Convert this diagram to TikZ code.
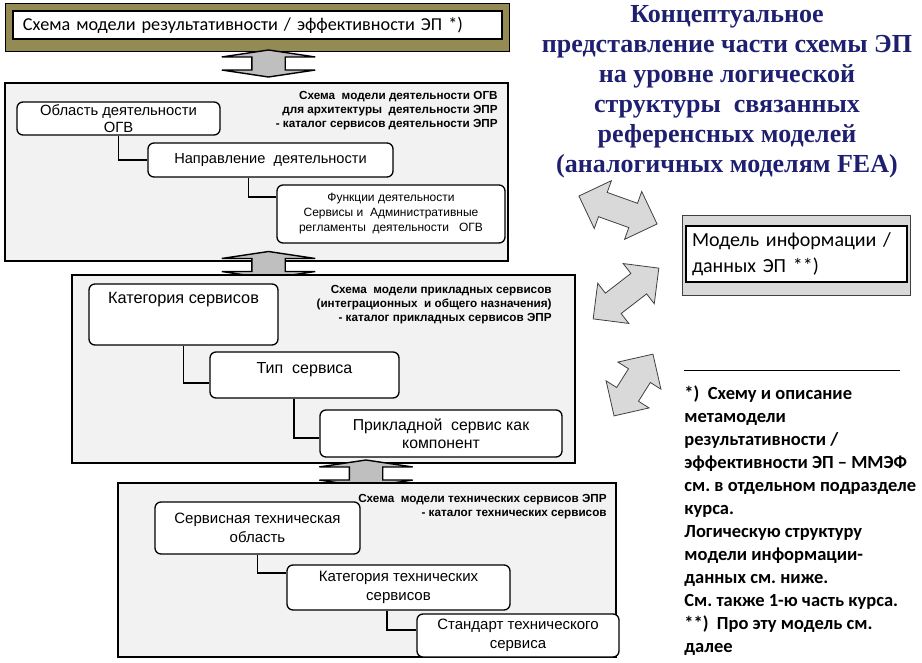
\documentclass[tikz,border=0pt]{standalone}
\usepackage{fontspec}
\usepackage{tikz}
\setmainfont{Liberation Sans}
\newfontfamily\carlito{Carlito}
\newfontfamily\timesru{Liberation Serif}
\definecolor{gray100}{HTML}{F2F2F2}
\definecolor{gray300}{HTML}{D9D9D9}
\definecolor{gray400}{HTML}{BFBFBF}
\definecolor{gray700}{HTML}{404040}
\definecolor{olive600}{HTML}{948A54}
\definecolor{navy900}{HTML}{1F1F70}
\usetikzlibrary{shapes.arrows}
\tikzstyle{ramka}=[draw=black, fill=gray100, line width=1.3pt, inner sep=0pt]
\tikzstyle{blok}=[draw=black, fill=white, rounded corners=6pt, line width=1.3pt, align=center, inner sep=0pt]
\tikzstyle{podpis}=[anchor=north east, align=right, inner sep=0pt, font=\bfseries\fontsize{11.7}{14}\selectfont]
\tikzstyle{svyaz}=[draw=black, line width=1.3pt]
\tikzstyle{strelka}=[double arrow, draw=gray700, fill=gray300, line width=0.8pt, minimum width=0pt, inner xsep=0pt, inner ysep=12.5pt, double arrow head extend=12.5pt]
\tikzstyle{perehod}=[double arrow, draw=black, fill=gray400, line width=1.4pt, rotate=90, minimum width=0pt, minimum height=27pt, inner xsep=0pt, inner ysep=16pt, double arrow head extend=30pt, double arrow tip angle=163]
\frenchspacing

\begin{document}
\begin{tikzpicture}[x=1pt, y=-1pt, thick]
			\useasboundingbox (0,0) rectangle (922,663);
			% verkhnyaya shema
			\node[draw=black, fill=olive600, line width=0.6pt, minimum width=504pt, minimum height=48pt, inner sep=0pt] (shema) at (257,27) {};
			\node[draw=black, fill=white, line width=1.3pt, minimum width=489pt, minimum height=28pt, text width=469pt, inner xsep=10pt, inner ysep=0pt, align=left, font=\carlito\fontsize{18.2}{21}\selectfont] (rez) at (257.5,25) {Схема модели результативности / эффективности ЭП *)};
			\node[perehod] (s1) at (268.5,63.5) {};
			% deyatelnost OGV
			\node[ramka, minimum width=503pt, minimum height=178pt] (p1) at (256.5,172) {};
			\node[podpis] (l1) at (498,91) {Схема\ \ модели деятельности ОГВ\\для архитектуры\ \ деятельности ЭПР\\- каталог сервисов деятельности ЭПР};
			\node[blok, minimum width=203pt, minimum height=33pt, font=\fontsize{14.8}{17.5}\selectfont] (a1) at (118.5,118.5) {Область деятельности\\ОГВ};
			\node[blok, minimum width=245pt, minimum height=34pt, font=\fontsize{14.6}{17}\selectfont] (a2) at (270.5,160) {Направление\ \ деятельности};
			\node[blok, minimum width=228pt, minimum height=58pt, font=\fontsize{12}{15}\selectfont] (a3) at (391,214) {Функции деятельности\\Сервисы и\ \ Административные\\регламенты\ \ деятельности\ \ \ ОГВ};
			\path[svyaz] (a1.south) |- (a2.west);
			\path[svyaz] ([xshift=-22pt]a2.south) |- ([yshift=17pt]a3.west);
			\node[perehod] (s2) at (268.5,265) {};
			% prikladnye servisy
			\node[ramka, minimum width=503pt, minimum height=188pt] (p2) at (323.5,369) {};
			\node[podpis] (l2) at (552,284.5) {Схема\ \ модели прикладных сервисов\\(интеграционных\ \ и общего\ назначения)\\- каталог прикладных сервисов ЭПР};
			\node[blok, minimum width=189pt, text height=19.5pt, text depth=41.5pt, font=\fontsize{16.3}{18}\selectfont] (b1) at (183.5,314.5) {Категория сервисов};
			\node[blok, minimum width=189pt, text height=21.5pt, text depth=24.5pt, font=\fontsize{16}{18}\selectfont] (b2) at (304.5,375) {Тип\ \ сервиса};
			\node[blok, minimum width=242pt, minimum height=47pt, font=\fontsize{15.8}{18.5}\selectfont] (b3) at (441,433.5) {Прикладной\ \ сервис как\\компонент};
			\path[svyaz] (b1.south) |- ([yshift=-8pt]b2.west);
			\path[svyaz] ([xshift=-10.5pt]b2.south) |- ([yshift=-4.5pt]b3.west);
			\node[perehod] (s3) at (366,473.5) {};
			% tekhnicheskie servisy
			\node[ramka, minimum width=498pt, minimum height=174pt] (p3) at (367,570) {};
			\node[podpis] (l3) at (607,494) {Схема\ \ модели технических сервисов ЭПР\\- каталог технических сервисов};
			\node[blok, minimum width=205pt, minimum height=52pt, font=\fontsize{15}{19}\selectfont] (c1) at (257.5,528) {Сервисная техническая\\область};
			\node[blok, minimum width=223pt, minimum height=45pt, font=\fontsize{15}{19}\selectfont] (c2) at (398.5,587.5) {Категория технических\\сервисов};
			\node[blok, minimum width=202pt, minimum height=43pt, font=\fontsize{15}{19}\selectfont] (c3) at (518,635.5) {Стандарт технического\\сервиса};
			\path[svyaz] (c1.south) |- ([yshift=14.5pt]c2.west);
			\path[svyaz] ([xshift=-11.5pt]c2.south) |- ([yshift=5.5pt]c3.west);
			% pravaya chast
			\node[text=navy900, align=center, inner sep=0pt, font=\timesru\bfseries\fontsize{26}{30}\selectfont] (zag) at (727,92) {Концептуальное\\представление части схемы ЭП\\на уровне логической\\структуры\ \ связанных\\референсных моделей\\(аналогичных моделям FEA)};
			\node[draw=gray700, fill=gray300, line width=0.8pt, minimum width=228pt, minimum height=80pt, inner sep=0pt] (info) at (796,255) {};
			\node[draw=black, fill=white, line width=1.3pt, minimum width=221pt, minimum height=56pt, text width=209pt, inner xsep=6pt, inner ysep=0pt, align=left, font=\carlito\fontsize{20}{26}\selectfont] (dannye) at (796.5,254) {Модель информации /\\данных ЭП **)};
			\node[strelka, minimum height=83pt, rotate=-19.7] (r1) at (618,210) {};
			\node[strelka, minimum height=83pt, rotate=37.7] (r2) at (626,293.5) {};
			\node[strelka, minimum height=73pt, rotate=57.8] (r3) at (633.5,385) {};
			\draw[line width=1pt] (684,371) -- (900,371);
			\node[anchor=north west, align=left, inner sep=0pt, font=\carlito\bfseries\fontsize{18.5}{23}\selectfont] (snoska) at (684,385) {*)\ \ Схему и описание\\метамодели\\результативности /\\эффективности ЭП – ММЭФ\\см. в отдельном подразделе\\курса.\\Логическую структуру\\модели информации-\\данных см. ниже.\\См. также 1-ю часть курса.\\**)\ \ Про эту модель см.\\далее};
		\end{tikzpicture}
\end{document}
